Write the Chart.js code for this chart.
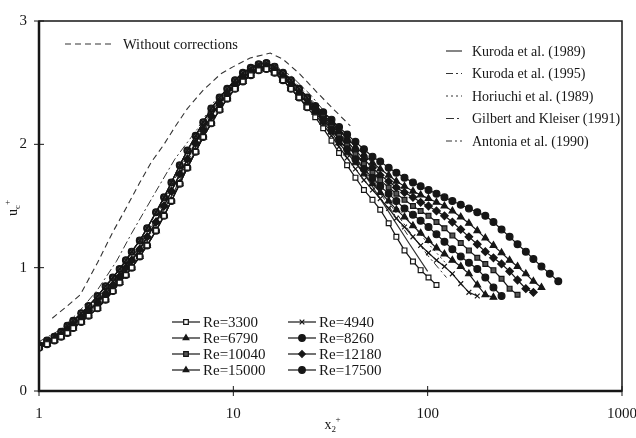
<!DOCTYPE html>
<html>
<head>
<meta charset="utf-8">
<script src="https://cdn.jsdelivr.net/npm/chart.js@4"></script>
<style>
  html, body { margin: 0; padding: 0; background: #fff; }
  canvas { display: block; }
</style>
</head>
<body>
<canvas id="chart" width="636" height="438"></canvas>
<script>
const xs = [1, 1.1, 1.2, 1.3, 1.4, 1.5, 1.65, 1.8, 2, 2.2, 2.4, 2.6, 2.8, 3, 3.3, 3.6, 4, 4.4, 4.8, 5.3,
            5.8, 6.4, 7, 7.7, 8.5, 9.3, 10.2, 11.2, 12.3, 13.5, 14.8, 16.3, 18, 19.8, 21.8, 24,
            26.4, 29, 32, 35, 38.5, 42.5, 47, 52, 57, 63, 69, 76, 84, 92, 101, 111, 122, 134, 148,
            163, 180, 198, 218, 240, 264, 290, 320, 350, 385, 425, 470];

// rising part, up to x2+ = 24 (three slightly different spreads of the collapsed data)
const riseLow  = [0.35, 0.38, 0.41, 0.44, 0.47, 0.51, 0.56, 0.61, 0.67, 0.74, 0.81, 0.88, 0.94, 1.0, 1.09, 1.18, 1.3, 1.42, 1.54, 1.68,
                  1.81, 1.94, 2.06, 2.17, 2.28, 2.37, 2.45, 2.51, 2.56, 2.6, 2.61, 2.58, 2.52, 2.45, 2.38, 2.3];
const riseMid  = [0.36, 0.39, 0.42, 0.46, 0.5, 0.54, 0.6, 0.65, 0.72, 0.79, 0.86, 0.93, 1.0, 1.06, 1.15, 1.25, 1.37, 1.5, 1.62, 1.76,
                  1.88, 2.01, 2.12, 2.23, 2.33, 2.41, 2.48, 2.54, 2.59, 2.62, 2.63, 2.6, 2.54, 2.48, 2.41, 2.33];
const riseHigh = [0.37, 0.41, 0.44, 0.48, 0.53, 0.57, 0.63, 0.69, 0.77, 0.85, 0.92, 0.99, 1.06, 1.13, 1.22, 1.32, 1.45, 1.57, 1.69, 1.83,
                  1.95, 2.07, 2.18, 2.29, 2.38, 2.45, 2.52, 2.58, 2.62, 2.65, 2.66, 2.63, 2.58, 2.52, 2.45, 2.38];

// descending tails from x2+ = 26.4 on, one per Reynolds number
const tail3300  = [2.22, 2.13, 2.03, 1.93, 1.83, 1.73, 1.63, 1.55, 1.47, 1.36, 1.25, 1.14, 1.05, 0.98, 0.92, 0.86];
const tail4940  = [2.24, 2.16, 2.07, 1.98, 1.89, 1.8, 1.71, 1.63, 1.56, 1.48, 1.4, 1.33, 1.25, 1.18, 1.12, 1.06, 1.01, 0.95, 0.87, 0.8, 0.77];
const tail6790  = [2.26, 2.18, 2.1, 2.01, 1.93, 1.85, 1.76, 1.68, 1.61, 1.54, 1.47, 1.41, 1.34, 1.28, 1.22, 1.16, 1.11, 1.06, 1.01, 0.95, 0.86, 0.78, 0.76];
const tail8260  = [2.27, 2.2, 2.12, 2.04, 1.96, 1.88, 1.8, 1.73, 1.66, 1.6, 1.54, 1.48, 1.43, 1.38, 1.33, 1.27, 1.21, 1.15, 1.09, 1.04, 0.99, 0.92, 0.84, 0.77];
const tail10040 = [2.28, 2.22, 2.14, 2.07, 1.99, 1.92, 1.84, 1.77, 1.71, 1.65, 1.6, 1.55, 1.5, 1.46, 1.42, 1.37, 1.32, 1.26, 1.2, 1.14, 1.08, 1.03, 0.98, 0.91, 0.83, 0.78];
const tail12180 = [2.29, 2.23, 2.16, 2.09, 2.02, 1.95, 1.88, 1.81, 1.75, 1.7, 1.65, 1.61, 1.57, 1.53, 1.5, 1.46, 1.42, 1.37, 1.31, 1.25, 1.19, 1.13, 1.08, 1.03, 0.97, 0.9, 0.83, 0.8];
const tail15000 = [2.3, 2.24, 2.18, 2.11, 2.05, 1.98, 1.92, 1.85, 1.8, 1.75, 1.7, 1.66, 1.62, 1.59, 1.56, 1.53, 1.5, 1.46, 1.41, 1.36, 1.3, 1.24, 1.18, 1.12, 1.06, 1.01, 0.95, 0.89, 0.84];
const tail17500 = [2.31, 2.26, 2.2, 2.14, 2.08, 2.02, 1.96, 1.9, 1.86, 1.81, 1.77, 1.73, 1.69, 1.66, 1.63, 1.6, 1.57, 1.54, 1.51, 1.48, 1.45, 1.42, 1.37, 1.31, 1.25, 1.19, 1.13, 1.07, 1.01, 0.95, 0.89];

// reference curves
const refX        = [1, 1.3, 1.6, 2, 2.5, 3, 4, 5, 6.5, 8, 10, 13, 16, 20, 25, 30, 40, 50, 65, 80, 100, 125];
const kuroda89Y   = [0.36, 0.46, 0.57, 0.71, 0.88, 1.05, 1.36, 1.63, 1.97, 2.28, 2.47, 2.6, 2.62, 2.5, 2.33, 2.18, 1.92, 1.7, 1.42, 1.2, 0.97];
const kuroda95Y   = [0.37, 0.47, 0.58, 0.73, 0.9, 1.07, 1.39, 1.67, 2.0, 2.3, 2.49, 2.61, 2.62, 2.52, 2.36, 2.21, 1.97, 1.76, 1.5, 1.3, 1.1, 0.92];
const horiuchiY   = [0.36, 0.45, 0.56, 0.7, 0.87, 1.04, 1.35, 1.62, 1.96, 2.27, 2.46, 2.6, 2.63, 2.52, 2.36, 2.22, 1.98, 1.78, 1.55, 1.38, 1.2, 1.03];
const gilbertY    = [0.4, 0.5, 0.64, 0.82, 1.05, 1.28, 1.62, 1.88, 2.12, 2.35, 2.51, 2.63, 2.65, 2.55, 2.4, 2.25, 2.0, 1.78];
const antoniaY    = [0.37, 0.48, 0.6, 0.76, 0.95, 1.12, 1.44, 1.72, 2.04, 2.33, 2.51, 2.63, 2.64, 2.53, 2.37, 2.22, 1.96, 1.74, 1.47, 1.25];
const noCorrX     = [1.17, 1.4, 1.63, 2, 2.4, 2.8, 3.3, 3.8, 4.4, 5, 5.8, 7, 8.6, 10, 12.2, 15.5, 18, 22, 27, 33, 40];
const noCorrY     = [0.59, 0.69, 0.78, 1.04, 1.29, 1.48, 1.69, 1.86, 2.0, 2.14, 2.29, 2.44, 2.57, 2.63, 2.7, 2.74, 2.69, 2.57, 2.42, 2.28, 2.15];

const xTicks = [1, 10, 100, 1000];
const yTicks = [0, 1, 2, 3];

const FONT = '"Liberation Serif", "DejaVu Serif", serif';
const INK = '#161616';

function pts(xv, yv) {
  return yv.map((y, i) => ({ x: xv[i], y: y }));
}

function reSeries(label, rise, tail, style, fill, radius) {
  return {
    label: label, group: 're',
    data: pts(xs, rise.concat(tail)),
    showLine: true, borderColor: INK, borderWidth: 1.2,
    pointStyle: style, pointRadius: radius || 3.4, pointBorderWidth: 1.2,
    pointBackgroundColor: fill, pointBorderColor: INK
  };
}

function refLine(label, xv, yv, dash, width) {
  return {
    label: label, group: 'ref',
    data: pts(xv, yv), showLine: true, pointRadius: 0,
    borderColor: '#333', borderWidth: width || 1, borderDash: dash
  };
}

const datasets = [
  reSeries('Re=3300', riseLow, tail3300, 'rect', '#fff', 3.4),
  reSeries('Re=4940', riseHigh, tail4940, 'crossRot', INK, 3.4),
  reSeries('Re=6790', riseMid, tail6790, 'triangle', INK, 3.8),
  reSeries('Re=8260', riseLow, tail8260, 'circle', INK),
  reSeries('Re=10040', riseHigh, tail10040, 'rect', '#555'),
  reSeries('Re=12180', riseMid, tail12180, 'rectRot', INK, 3.8),
  reSeries('Re=15000', riseLow, tail15000, 'triangle', INK, 3.8),
  reSeries('Re=17500', riseHigh, tail17500, 'circle', INK),
  refLine('Kuroda et al. (1989)', refX, kuroda89Y, [], 1.2),
  refLine('Kuroda et al. (1995)', refX, kuroda95Y, [7, 3, 2, 3]),
  refLine('Horiuchi et al. (1989)', refX, horiuchiY, [2, 3]),
  refLine('Gilbert and Kleiser (1991)', refX, gilbertY, [8, 3, 2, 3]),
  refLine('Antonia et al. (1990)', refX, antoniaY, [6, 3, 2, 3]),
  Object.assign(refLine('Without corrections', noCorrX, noCorrY, [6, 4], 1.1), { group: 'top' })
];

// frame, crossing tick marks and the axis titles with sub/superscripts
const axisMarks = {
  id: 'axisMarks',
  afterDatasetsDraw(chart) {
    const { ctx, chartArea: a, scales: { x, y } } = chart;
    ctx.save();
    ctx.strokeStyle = INK;
    ctx.lineWidth = 1.5;
    ctx.strokeRect(a.left, a.top, a.right - a.left, a.bottom - a.top);
    ctx.lineWidth = 2.5;
    ctx.beginPath();
    ctx.moveTo(a.left, a.top); ctx.lineTo(a.left, a.bottom); ctx.lineTo(a.right, a.bottom);
    ctx.stroke();
    ctx.lineWidth = 1;
    y.ticks.forEach(t => {
      const p = y.getPixelForValue(t.value);
      ctx.beginPath(); ctx.moveTo(a.left - 5, p); ctx.lineTo(a.left + 5, p); ctx.stroke();
    });
    x.ticks.forEach(t => {
      const p = x.getPixelForValue(t.value);
      ctx.beginPath(); ctx.moveTo(p, a.bottom - 5); ctx.lineTo(p, a.bottom + 5); ctx.stroke();
    });
    ctx.fillStyle = INK;
    ctx.textBaseline = 'alphabetic';
    // x label
    const cx = (x.getPixelForValue(10) + x.getPixelForValue(100)) / 2;
    ctx.font = '14px ' + FONT;
    ctx.fillText('x', cx - 6, a.bottom + 38);
    ctx.font = '9px ' + FONT;
    ctx.fillText('2', cx + 1, a.bottom + 41);
    ctx.fillText('+', cx + 5, a.bottom + 31);
    // y label (rotated)
    ctx.translate(a.left - 22, (a.top + a.bottom) / 2 + 10);
    ctx.rotate(-Math.PI / 2);
    ctx.font = '14px ' + FONT;
    ctx.fillText('u', 0, 0);
    ctx.font = '9px ' + FONT;
    ctx.fillText('c', 7, 3);
    ctx.fillText('+', 11, -7);
    ctx.restore();
  }
};

// three legend blocks placed inside the plot like the original
const legendBlocks = {
  id: 'legendBlocks',
  afterDraw(chart) {
    const { ctx } = chart;
    const a = chart.chartArea;
    ctx.save();
    ctx.fillStyle = INK;
    ctx.textBaseline = 'middle';
    let nRef = 0, nRe = 0;
    chart.data.datasets.forEach(ds => {
      let x0, x1, tx, ty, size;
      if (ds.group === 'top') {
        x0 = a.left + 26; x1 = a.left + 76; tx = a.left + 84; ty = a.top + 23; size = 14.5;
      } else if (ds.group === 'ref') {
        x0 = a.left + 407; x1 = a.left + 423; tx = a.left + 433; ty = a.top + 30 + nRef * 22.5; size = 14;
        nRef++;
      } else {
        const col = nRe % 2, row = Math.floor(nRe / 2);
        x0 = a.left + 133 + col * 116; x1 = x0 + 28; tx = x1 + 3; ty = a.bottom - 69 + row * 16; size = 15;
        nRe++;
      }
      ctx.strokeStyle = ds.borderColor;
      ctx.lineWidth = ds.borderWidth;
      ctx.setLineDash(ds.borderDash || []);
      ctx.beginPath(); ctx.moveTo(x0, ty); ctx.lineTo(x1, ty); ctx.stroke();
      ctx.setLineDash([]);
      if (ds.group === 're') {
        ctx.fillStyle = ds.pointBackgroundColor;
        ctx.strokeStyle = ds.pointBorderColor;
        ctx.lineWidth = 1.2;
        Chart.helpers.drawPoint(ctx, { pointStyle: ds.pointStyle, radius: 3.3, rotation: 0, borderWidth: 1.2 }, (x0 + x1) / 2, ty);
        ctx.fillStyle = INK;
      }
      ctx.font = size + 'px ' + FONT;
      ctx.fillText(ds.label, tx, ty + 1);
    });
    ctx.restore();
  }
};

new Chart(document.getElementById('chart'), {
  type: 'scatter',
  data: { datasets: datasets },
  options: {
    responsive: false,
    animation: false,
    devicePixelRatio: 1,
    layout: { padding: { left: 0, top: 15, right: 14, bottom: 0 } },
    plugins: { legend: { display: false }, tooltip: { enabled: false } },
    scales: {
      x: {
        type: 'logarithmic', min: 1, max: 1000,
        afterBuildTicks: s => { s.ticks = xTicks.map(v => ({ value: v })); },
        afterFit: s => { s.height = 47; s.paddingLeft = 0; s.paddingRight = 0; },
        ticks: { callback: v => String(v), font: { family: FONT, size: 15 }, color: INK, padding: 14, maxRotation: 0, autoSkip: false },
        grid: { display: false, drawTicks: false },
        border: { display: false }
      },
      y: {
        min: 0, max: 3,
        afterBuildTicks: s => { s.ticks = yTicks.map(v => ({ value: v })); },
        afterFit: s => { s.width = 39; },
        ticks: { callback: v => String(v), font: { family: FONT, size: 15 }, color: INK, padding: 12 },
        grid: { display: false, drawTicks: false },
        border: { display: false }
      }
    }
  },
  plugins: [axisMarks, legendBlocks]
});
</script>
</body>
</html>
